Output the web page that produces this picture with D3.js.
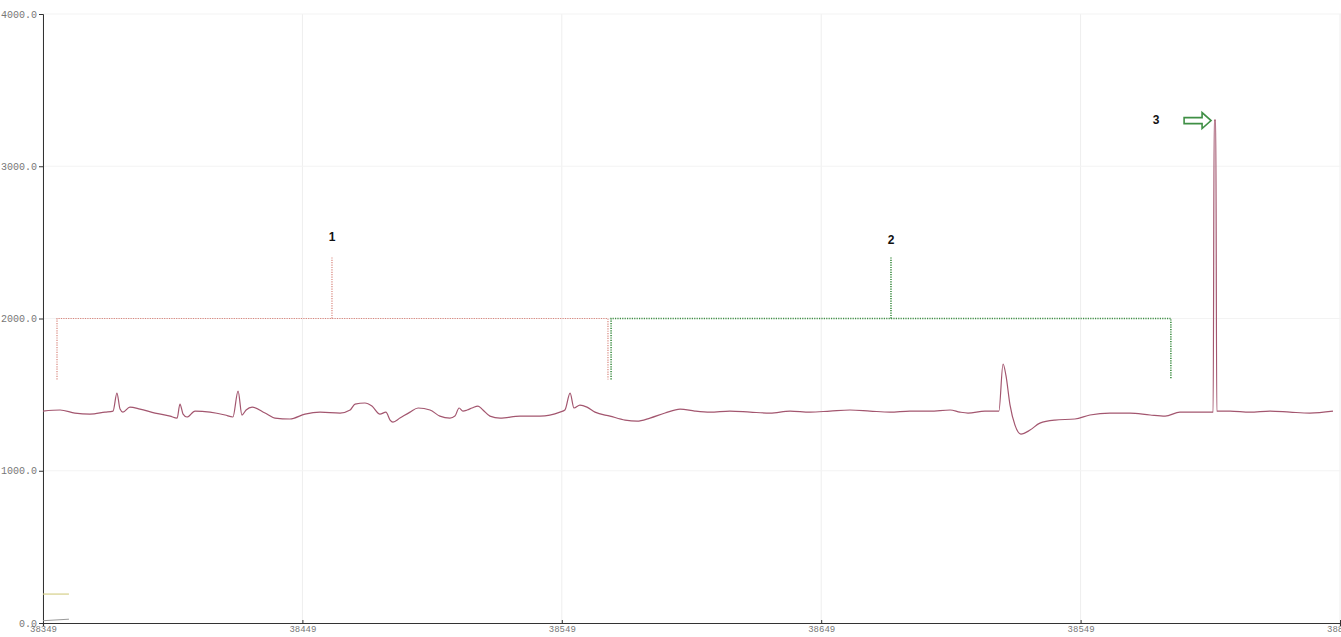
<!DOCTYPE html>
<html>
<head>
<meta charset="utf-8">
<script src="https://cdn.jsdelivr.net/npm/d3@7"></script>
<style>
  html, body { margin: 0; padding: 0; background: #fff; }
  svg { display: block; }
</style>
</head>
<body>
<svg id="chart" width="1341" height="637"></svg>
<script>
// Recording window (sample counter) and amplitude range
const startSample = 38349;
const xDomain = [38349, 38849];
const yDomain = [0, 4000];
const yTicks = [0, 1000, 2000, 3000, 4000];
const xTicks = [38349, 38449, 38549, 38649, 38749, 38849];
const xTickLabels = ["38349", "38449", "38549", "38649", "38549", "38849"];

// Signal: sample offsets from startSample and readings
const sampleOffsets = [
  0, 6.6, 12.3, 18.1, 23.9, 27.0, 28.5, 29.7, 30.8, 33.5, 37.4, 43.2, 49.0, 51.7, 52.8, 54.0,
  55.5, 58.6, 64.4, 70.2, 73.2, 75.2, 76.7, 78.3, 80.6, 85.6, 89.4, 95.2, 101.0, 106.8, 114.5,
  118.4, 120.3, 124.1, 126.8, 129.9, 132.2, 133.8, 134.9, 137.6, 141.5, 144.6, 149.2, 153.0,
  156.9, 158.8, 160.4, 161.9, 163.5, 165.4, 167.7, 169.6, 172.3, 176.2, 183.9, 191.6, 199.3,
  201.2, 203.2, 204.7, 207.0, 209.7, 212.8, 218.6, 224.4, 229.0, 234.0, 239.8, 245.6, 251.3,
  257.1, 264.8, 272.6, 280.3, 288.0, 295.7, 303.4, 311.1, 318.8, 326.5, 334.2, 341.9, 349.7,
  353.5, 356.6, 363.1, 368.5, 370.1, 371.2, 372.8, 374.7, 377.0, 380.5, 384.3, 390.1, 397.8,
  403.6, 411.3, 419.0, 426.8, 432.6, 438.3, 446.0, 451.1, 451.5, 452.1, 452.5, 457.6, 465.3,
  473.0, 480.7, 488.4, 497.3
];
const signalValues = [
  1392, 1399, 1379, 1372, 1385, 1392, 1510, 1405, 1385, 1418, 1405, 1379, 1359, 1346, 1438, 1372,
  1353, 1392, 1385, 1366, 1353, 1523, 1366, 1399, 1418, 1379, 1346, 1340, 1372, 1385, 1379,
  1399, 1438, 1445, 1425, 1372, 1385, 1333, 1320, 1346, 1385, 1412, 1399, 1359,
  1346, 1359, 1412, 1392, 1399, 1412, 1425, 1399, 1359, 1346, 1359, 1359, 1385,
  1399, 1510, 1412, 1431, 1418, 1385, 1359, 1333, 1326, 1346, 1379, 1405, 1392,
  1385, 1392, 1385, 1379, 1392, 1385, 1392, 1399, 1392, 1385, 1392, 1392, 1399,
  1385, 1379, 1392, 1392, 1701, 1628, 1431, 1300, 1241, 1267, 1313, 1333, 1340,
  1366, 1379, 1379, 1366, 1359, 1385, 1385, 1385, 3303, 3303, 1392, 1392, 1385,
  1392, 1385, 1379, 1392
];

// Short trace stubs at the lower left
const stubOffsets = [0, 10];
const stubUpper = [190, 190];
const stubLower = [15, 25];

// Bracketed segments: start, end and centre offsets, bar level, leg bottom, stem top, label
const bracketNames = ["1", "2"];
const bracketStart = [5.4, 219.0];
const bracketEnd = [217.8, 434.8];
const bracketCentre = [111.4, 326.9];
const bracketLevel = [2000, 2000];
const bracketLegBottom = [1600, 1600];
const bracketStemTop = [2400, 2400];
const bracketLabelValue = [2530, 2510];
const bracketColors = ["#d8857c", "#3f8f45"];

// Marker for the third event
const arrowFrom = 439.9, arrowTo = 450.3, arrowValue = 3300;
const marker3Offset = 429.1, marker3Value = 3300;

const svg = d3.select("#chart");
const x = d3.scaleLinear().domain(xDomain).range([43, 1340]);
const y = d3.scaleLinear().domain(yDomain).range([623, 14]);

// Grid
svg.append("g").selectAll("line").data(xTicks).join("line")
  .attr("x1", d => x(d)).attr("x2", d => x(d))
  .attr("y1", y(4000)).attr("y2", y(0))
  .attr("stroke", "#eeeeee").attr("stroke-width", 1);
svg.append("g").selectAll("line").data(yTicks.filter(d => d > 0)).join("line")
  .attr("x1", x(xDomain[0])).attr("x2", 1341)
  .attr("y1", d => y(d)).attr("y2", d => y(d))
  .attr("stroke", "#f3f3f3").attr("stroke-width", 1);

// Axes
const yAxis = d3.axisLeft(y).tickValues(yTicks).tickFormat(d3.format(".1f")).tickSize(4).tickPadding(2);
const yG = svg.append("g").attr("transform", `translate(${x(xDomain[0])},0)`).call(yAxis);
yG.select(".domain").attr("stroke", "#333");
yG.selectAll(".tick line").attr("stroke", "#333");
yG.selectAll("text").attr("font-family", "'Liberation Mono', monospace")
  .attr("font-size", 10).attr("fill", "#777");

const xAxis = d3.axisBottom(x).tickValues(xTicks).tickFormat((d, i) => xTickLabels[i]).tickSize(3).tickPadding(0);
const xG = svg.append("g").attr("transform", `translate(0,${y(0)})`).call(xAxis);
xG.select(".domain").attr("stroke", "#333").attr("stroke-width", 1.2);
xG.selectAll(".tick line").attr("stroke", "#333").attr("transform", "translate(0,-3)");
xG.selectAll("text").attr("font-family", "'Liberation Mono', monospace")
  .attr("font-size", 9).attr("fill", "#777");

// Stubs
const stubLine = d3.line().x(d => x(startSample + d[0])).y(d => y(d[1]));
svg.append("path").datum(stubOffsets.map((o, i) => [o, stubUpper[i]]))
  .attr("d", stubLine).attr("fill", "none").attr("stroke", "#d6d08a").attr("stroke-width", 1.2);
svg.append("path").datum(stubOffsets.map((o, i) => [o, stubLower[i]]))
  .attr("d", stubLine).attr("fill", "none").attr("stroke", "#999").attr("stroke-width", 1);

// Brackets
bracketNames.forEach((name, i) => {
  const c = bracketColors[i];
  const g = svg.append("g").attr("fill", "none").attr("stroke", c)
    .attr("stroke-width", i === 0 ? 1.2 : 1.6).attr("stroke-dasharray", "1.2,1.2");
  const pts = [
    [bracketStart[i], bracketLegBottom[i]], [bracketStart[i], bracketLevel[i]],
    [bracketEnd[i], bracketLevel[i]], [bracketEnd[i], bracketLegBottom[i]]
  ];
  g.append("path").attr("d", d3.line().x(d => x(startSample + d[0])).y(d => y(d[1]))(pts));
  g.append("line")
    .attr("x1", x(startSample + bracketCentre[i])).attr("x2", x(startSample + bracketCentre[i]))
    .attr("y1", y(bracketLevel[i])).attr("y2", y(bracketStemTop[i]));
  svg.append("text").attr("x", x(startSample + bracketCentre[i])).attr("y", y(bracketLabelValue[i]))
    .attr("text-anchor", "middle").attr("dominant-baseline", "middle")
    .attr("font-family", "'Liberation Sans', Arial, sans-serif").attr("font-weight", "bold")
    .attr("font-size", 12).attr("fill", "#111").text(name);
});

// Signal trace
const line = d3.line()
  .x((d, i) => x(startSample + sampleOffsets[i])).y(d => y(d))
  .curve(d3.curveMonotoneX);
svg.append("path").datum(signalValues).attr("d", line)
  .attr("fill", "none").attr("stroke", "#a3566f").attr("stroke-width", 1.2)
  .attr("stroke-linejoin", "round");

// Third event label and outlined arrow
svg.append("text").attr("x", x(startSample + marker3Offset)).attr("y", y(marker3Value))
  .attr("text-anchor", "middle").attr("dominant-baseline", "middle")
  .attr("font-family", "'Liberation Sans', Arial, sans-serif").attr("font-weight", "bold")
  .attr("font-size", 12).attr("fill", "#111").text("3");
const ax0 = x(startSample + arrowFrom), ax1 = x(startSample + arrowTo), ay = y(arrowValue);
const head = 9;
svg.append("path")
  .attr("d", `M${ax0},${ay - 3}L${ax1 - head},${ay - 3}L${ax1 - head},${ay - 8}L${ax1},${ay}` +
             `L${ax1 - head},${ay + 8}L${ax1 - head},${ay + 3}L${ax0},${ay + 3}Z`)
  .attr("fill", "#fff").attr("stroke", "#3f8f45").attr("stroke-width", 1.6);
</script>
</body>
</html>
